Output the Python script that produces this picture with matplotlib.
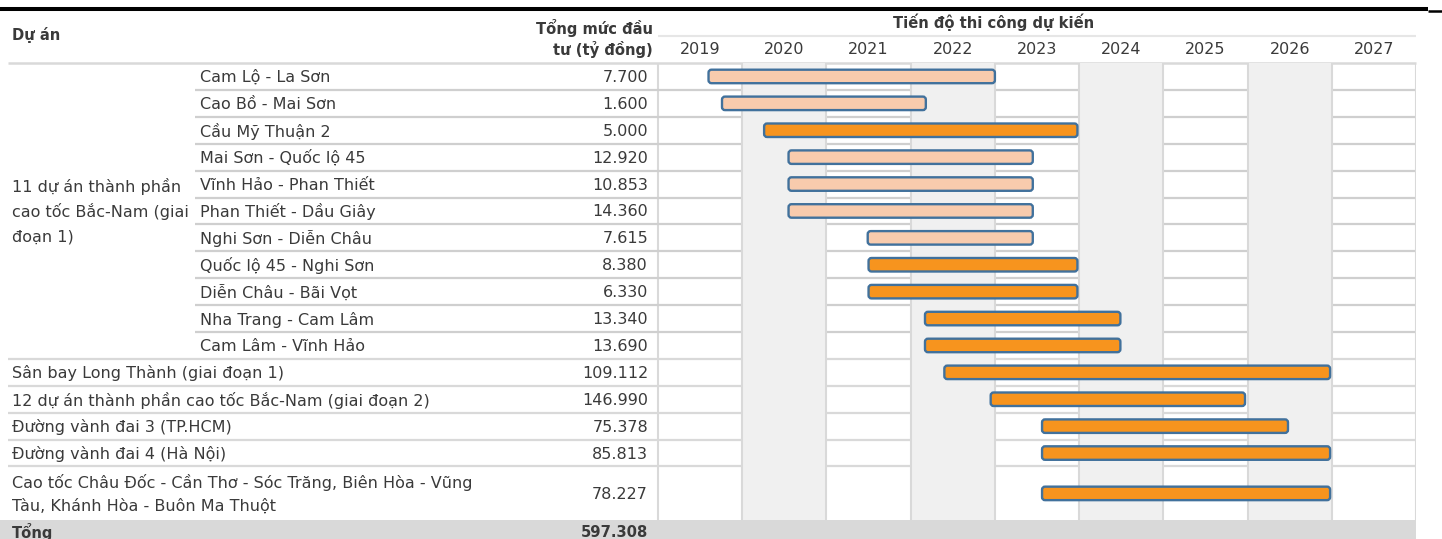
import matplotlib
matplotlib.use("Agg")
import matplotlib.pyplot as plt
from matplotlib.patches import FancyBboxPatch, Rectangle

plt.rcParams['font.family'] = ['DejaVu Sans']

# ---------------- data ----------------
group_label = "11 dự án thành phần\ncao tốc Bắc-Nam (giai\nđoạn 1)"
group_names = ["Cam Lộ - La Sơn", "Cao Bồ - Mai Sơn", "Cầu Mỹ Thuận 2",
               "Mai Sơn - Quốc lộ 45", "Vĩnh Hảo - Phan Thiết",
               "Phan Thiết - Dầu Giây", "Nghi Sơn - Diễn Châu",
               "Quốc lộ 45 - Nghi Sơn", "Diễn Châu - Bãi Vọt",
               "Nha Trang - Cam Lâm", "Cam Lâm - Vĩnh Hảo"]
group_values = [7700, 1600, 5000, 12920, 10853, 14360, 7615, 8380, 6330, 13340, 13690]
group_start = [2019.60, 2019.76, 2020.26, 2020.55, 2020.55, 2020.55,
               2021.49, 2021.50, 2021.50, 2022.17, 2022.17]
group_end = [2023.00, 2022.18, 2023.98, 2023.45, 2023.45, 2023.45,
             2023.45, 2023.98, 2023.98, 2024.49, 2024.49]
group_phase = ["light", "light", "dark", "light", "light", "light",
               "light", "dark", "dark", "dark", "dark"]

other_names = ["Sân bay Long Thành (giai đoạn 1)",
               "12 dự án thành phần cao tốc Bắc-Nam (giai đoạn 2)",
               "Đường vành đai 3 (TP.HCM)",
               "Đường vành đai 4 (Hà Nội)",
               "Cao tốc Châu Đốc - Cần Thơ - Sóc Trăng, Biên Hòa - Vũng\nTàu, Khánh Hòa - Buôn Ma Thuột"]
other_values = [109112, 146990, 75378, 85813, 78227]
other_start = [2022.40, 2022.95, 2023.56, 2023.56, 2023.56]
other_end = [2026.98, 2025.97, 2026.48, 2026.98, 2026.98]
other_phase = ["dark", "dark", "dark", "dark", "dark"]

years = [2019, 2020, 2021, 2022, 2023, 2024, 2025, 2026, 2027]
total_label = "Tổng"
total_value = 597308

header_project = "Dự án"
header_value = "Tổng mức đầu\ntư (tỷ đồng)"
header_timeline = "Tiến độ thi công dự kiến"

# ---------------- layout ----------------
W, H = 1442, 539
fig = plt.figure(figsize=(W / 100, H / 100), dpi=100)
bg = fig.add_axes([0, 0, 1, 1])
bg.set_xlim(0, W)
bg.set_ylim(H, 0)
bg.axis('off')

X0, X1 = 658, 1416          # timeline region (px)
ax = fig.add_axes([X0 / W, 0, (X1 - X0) / W, 1])
ax.set_xlim(years[0], years[-1] + 1)
ax.set_ylim(H, 0)
ax.axis('off')
px_per_year = (X1 - X0) / (len(years))

TXT = "#3a3a3a"
GRID = "#d9d9d9"
FS = 11.5
HFS = 10.6
DY = 1.0

top = 63.0
rh = 26.9
n_group = len(group_names)
row_h = [rh] * n_group + [rh] * (len(other_names) - 1) + [2 * rh]
bounds = [top]
for h in row_h:
    bounds.append(bounds[-1] + h)
centers = [(bounds[i] + bounds[i + 1]) / 2 for i in range(len(row_h))]
bottom = bounds[-1]

# top black rule
bg.hlines(8.5, 0, 1428, color="black", lw=2.9)
bg.hlines(10.8, 1428, W, color="black", lw=1.8)

# alternating column shading
for i, y in enumerate(years):
    if i % 2 == 1:
        ax.add_patch(Rectangle((y, top), 1, bottom - top, facecolor="#f0f0f0",
                               edgecolor="none", zorder=0))

# total band
bg.add_patch(Rectangle((0, bottom), X1, H - bottom + 10, facecolor="#d9d9d9",
                       edgecolor="none", zorder=0))

# vertical grid
ax.vlines([y for y in years[1:]] + [years[-1] + 1], top, bottom, color=GRID, lw=1.5, zorder=1)
bg.vlines(X0, top, bottom, color=GRID, lw=1.5, zorder=1)

# horizontal lines
bg.hlines(top, 8, X1, color=GRID, lw=1.8, zorder=1)
bg.hlines(36, X0, X1, color="#e6e6e6", lw=1.5, zorder=1)
for i in range(1, n_group):
    bg.hlines(bounds[i], 195, X1, color="#cfcfcf", lw=1.6, zorder=1)
for i in range(n_group, len(row_h)):
    bg.hlines(bounds[i], 8, X1, color=GRID, lw=1.6, zorder=1)


def fmt(v):
    return f"{v:,}".replace(",", ".")


# headers
bg.text(12, 35, header_project, fontsize=HFS, fontweight='bold', color=TXT,
        va='center', ha='left')
hv = header_value.split("\n")
bg.text(653, 28, hv[0], fontsize=HFS, fontweight='bold', color=TXT, va='center', ha='right')
bg.text(653, 49, hv[1], fontsize=HFS, fontweight='bold', color=TXT, va='center', ha='right')
bg.text(994, 22, header_timeline, fontsize=HFS, fontweight='bold', color=TXT,
        va='center', ha='center')
for y in years:
    ax.text(y + 0.5, 50, str(y), fontsize=FS, color=TXT, va='center', ha='center')

# group label
gl = group_label.split("\n")
gc = (bounds[0] + bounds[n_group]) / 2
for k, line in enumerate(gl):
    bg.text(12, gc + DY + (k - (len(gl) - 1) / 2) * 25.5, line, fontsize=FS, color=TXT,
            va='center', ha='left')

colors = {"light": "#f8cbad", "dark": "#f7941e"}
EDGE = "#41719c"

names = group_names + other_names
values = group_values + other_values
starts = group_start + other_start
ends = group_end + other_end
phases = group_phase + other_phase

for i, (nm, v, s, e, ph) in enumerate(zip(names, values, starts, ends, phases)):
    c = centers[i]
    if i < n_group:
        bg.text(200, c + DY, nm, fontsize=FS, color=TXT, va='center', ha='left')
    else:
        lines = nm.split("\n")
        for k, line in enumerate(lines):
            bg.text(12, c + DY + (k - (len(lines) - 1) / 2) * 24, line, fontsize=FS,
                    color=TXT, va='center', ha='left')
    bg.text(648, c + DY, fmt(v), fontsize=FS, color=TXT, va='center', ha='right')
    bh = 13.5
    r = 3.0 / px_per_year
    ax.add_patch(FancyBboxPatch((s, c - bh / 2), e - s, bh,
                                boxstyle=f"round,pad=0,rounding_size={r}",
                                mutation_aspect=3.0 / r,
                                facecolor=colors[ph], edgecolor=EDGE, lw=1.7, zorder=3))

# total row
tc = bottom + 12
bg.text(12, tc, total_label, fontsize=HFS, fontweight='bold', color=TXT, va='center', ha='left')
bg.text(648, tc, fmt(total_value), fontsize=HFS, fontweight='bold', color=TXT, va='center', ha='right')

fig.savefig("out.png", dpi=100)
